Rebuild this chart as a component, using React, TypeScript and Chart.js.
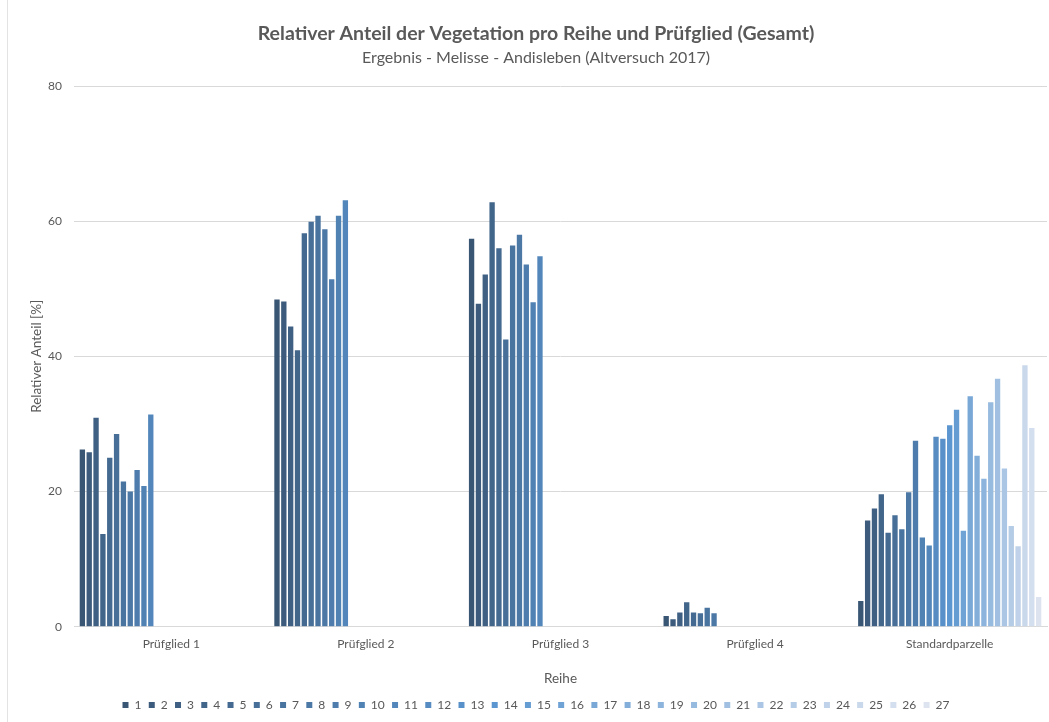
import { useEffect, useRef } from "react";
import { Chart, registerables } from "chart.js";

Chart.register(...registerables);

const categories = ["Prüfglied 1", "Prüfglied 2", "Prüfglied 3", "Prüfglied 4", "Standardparzelle"];
const rowLabels = ["1", "2", "3", "4", "5", "6", "7", "8", "9", "10", "11", "12", "13", "14", "15", "16", "17", "18", "19", "20", "21", "22", "23", "24", "25", "26", "27"];

const pruefglied1 = [26.2, 25.8, 30.9, 13.7, 25.0, 28.5, 21.5, 20.0, 23.2, 20.8, 31.4];
const pruefglied2 = [48.4, 48.1, 44.4, 40.9, 58.2, 59.9, 60.8, 58.8, 51.4, 60.8, 63.1];
const pruefglied3 = [57.4, 47.8, 52.1, 62.8, 56.0, 42.5, 56.4, 58.0, 53.6, 48.0, 54.8];
const pruefglied4 = [1.6, 1.1, 2.1, 3.6, 2.1, 2.0, 2.8, 2.0];
const standardparzelle = [3.8, 15.7, 17.5, 19.6, 13.9, 16.5, 14.4, 19.9, 27.5, 13.2, 12.0, 28.1, 27.8, 29.8, 32.1, 14.2, 34.1, 25.3, 21.9, 33.2, 36.7, 23.4, 14.9, 11.9, 38.7, 29.4, 4.4];

const yTicks = [0, 20, 40, 60, 80];

const FONT = "Lato, 'Open Sans', sans-serif";
const TEXT = "#595959";
const GRID = "#d9d9d9";

const colorDark = [58, 86, 117];
const colorMid = [91, 150, 208];
const colorLight = [221, 228, 240];

function shade(i: number, n: number): string {
  const midIdx = 13;
  let a: number[], b: number[], t: number;
  if (i <= midIdx) {
    a = colorDark; b = colorMid; t = i / midIdx;
  } else {
    a = colorMid; b = colorLight; t = (i - midIdx) / (n - 1 - midIdx);
  }
  const c = a.map((v, k) => Math.round(v + (b[k] - v) * t));
  return `rgb(${c[0]},${c[1]},${c[2]})`;
}

export default function App() {
  const ref = useRef<HTMLCanvasElement | null>(null);

  useEffect(() => {
    document.body.style.margin = "0";
    if (!ref.current) return;
    const groups = [pruefglied1, pruefglied2, pruefglied3, pruefglied4, standardparzelle];
    const datasets = rowLabels.map((lab, i) => ({
      label: lab,
      data: groups.map((g) => (i < g.length ? g[i] : null)),
      backgroundColor: shade(i, rowLabels.length),
      borderWidth: 0,
      categoryPercentage: 0.949,
      barPercentage: 0.78,
    }));
    const chart = new Chart(ref.current, {
      type: "bar",
      data: { labels: categories, datasets },
      options: {
        responsive: false,
        animation: false,
        layout: { padding: { left: 25, right: 2, top: 0, bottom: 1 } },
        plugins: {
          title: {
            display: true,
            text: "Relativer Anteil der Vegetation pro Reihe und Prüfglied (Gesamt)",
            color: TEXT,
            font: { family: FONT, size: 19.5, weight: "bold" },
            padding: { top: 22, bottom: 2 },
          },
          subtitle: {
            display: true,
            text: "Ergebnis - Melisse - Andisleben (Altversuch 2017)",
            color: TEXT,
            font: { family: FONT, size: 16 },
            padding: { top: 1, bottom: 18.4 },
          },
          legend: {
            position: "bottom",
            labels: {
              boxWidth: 6,
              boxHeight: 6,
              color: TEXT,
              font: { family: FONT, size: 12 },
              padding: 7.3,
            },
          },
          tooltip: { enabled: false },
        },
        scales: {
          x: {
            grid: { display: false, drawTicks: false },
            border: { display: true, color: GRID },
            ticks: { color: TEXT, font: { family: FONT, size: 12 }, padding: 10, maxRotation: 0 },
            title: {
              display: true,
              text: "Reihe",
              color: TEXT,
              font: { family: FONT, size: 13.5 },
              padding: { top: 0, bottom: 5 },
            },
            afterFit: (s: any) => { s.height = 65; },
          },
          y: {
            min: 0,
            max: 80,
            afterBuildTicks: (s: any) => { s.ticks = yTicks.map((v) => ({ value: v })); },
            ticks: { color: TEXT, font: { family: FONT, size: 12 }, padding: 12 },
            grid: { color: GRID, drawTicks: false },
            border: { display: false },
            title: {
              display: true,
              text: "Relativer Anteil [%]",
              color: TEXT,
              font: { family: FONT, size: 13.5 },
              padding: { top: 4, bottom: 0 },
            },
            afterFit: (s: any) => { s.width = 49; },
          },
        },
      },
    });
    return () => chart.destroy();
  }, []);

  return (
    <div style={{ position: "relative", width: 1049, height: 722, background: "#fff" }}>
      <div style={{ position: "absolute", left: 7, top: 0, width: 1, height: 722, background: "#e3e3e3" }} />
      <canvas ref={ref} width={1049} height={722} style={{ position: "absolute", left: 0, top: 0 }} />
    </div>
  );
}
